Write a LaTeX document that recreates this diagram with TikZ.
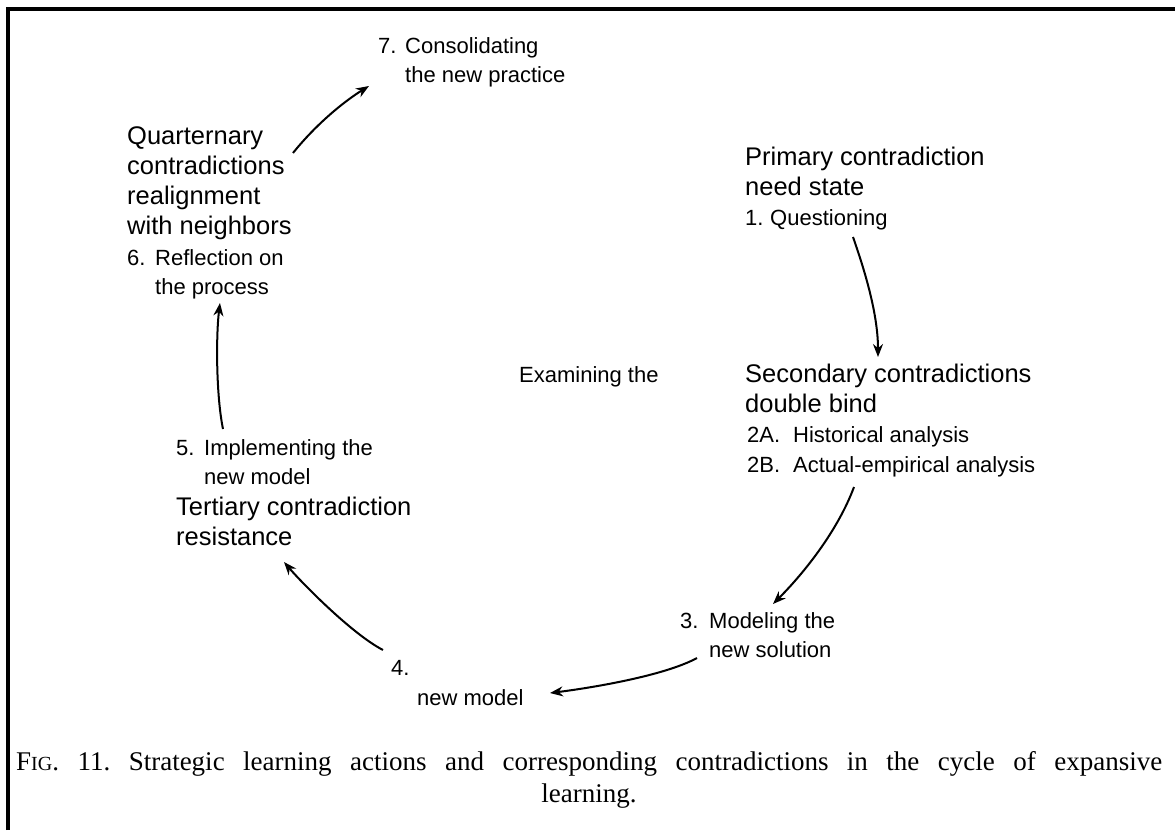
\documentclass[tikz,border=0pt]{standalone}
\usepackage{fontspec}
\setmainfont{Liberation Sans}
\newfontfamily\capfont{Liberation Serif}
\usetikzlibrary{arrows.meta}
\begin{document}
\begin{tikzpicture}[x=1pt,y=-1pt,
  big/.style={anchor=base west,inner sep=0pt,align=left,font=\fontsize{25.5}{30}\selectfont},
  small/.style={anchor=base west,inner sep=0pt,align=left,font=\fontsize{22}{29}\selectfont},
  smallw/.style={anchor=base west,inner sep=0pt,align=left,font=\fontsize{22}{30}\selectfont},
  arr/.style={line width=2pt,-{Stealth[length=13pt,width=10pt]}},
  frameline/.style={line width=3.5pt},
  captext/.style={inner sep=0pt,font=\capfont\fontsize{27}{32}\selectfont}]
\useasboundingbox (0,0) rectangle (1175,830);
\fill[white] (0,0) rectangle (1175,830);
\draw[frameline] (8,830) -- (8,9) -- (1175,9);

% texts (positions are the baselines of the last line)
\node[small] (n7) at (378,82) {\makebox[27pt][l]{7.}Consolidating\\\hspace*{27pt}the new practice};
\node[big] (q) at (127,234) {Quarternary\\contradictions\\realignment\\with neighbors};
\node[small] (n6) at (127,294) {\makebox[28pt][l]{6.}Reflection on\\\hspace*{28pt}the process};
\node[big] (p) at (745,195) {Primary contradiction\\need state};
\node[small] (n1) at (745,225) {\makebox[25pt][l]{1.}Questioning};
\node[big] (s) at (745,412) {Secondary contradictions\\double bind};
\node[smallw] (n2) at (747,472) {\makebox[46pt][l]{2A.}Historical analysis\\\makebox[46pt][l]{2B.}Actual-empirical analysis};
\node[small] (n3) at (680,657) {\makebox[29pt][l]{3.}Modeling the\\\hspace*{29pt}new solution};
\node[smallw] (n4) at (391,705) {\makebox[26pt][l]{4.}\\\hspace*{26pt}new model};
\node[small] (n5) at (176,484) {\makebox[28pt][l]{5.}Implementing the\\\hspace*{28pt}new model};
\node[big] (t) at (176,545) {Tertiary contradiction\\resistance};
\node[small] (ex) at (519,382) {Examining the};

% arrow end points
\coordinate (a1s) at (853,237); \coordinate (a1e) at (878,357);
\coordinate (a2s) at (854,487); \coordinate (a2e) at (773,604);
\coordinate (a3s) at (697,658); \coordinate (a3e) at (550,693);
\coordinate (a4s) at (383,650); \coordinate (a4e) at (284,562);
\coordinate (a5s) at (223,429); \coordinate (a5e) at (220,303);
\coordinate (a6s) at (293,153); \coordinate (a6e) at (369,86);

\draw[arr] (a1s) .. controls (867,277) and (878,317) .. (a1e);
\draw[arr] (a2s) .. controls (838,530) and (805,572) .. (a2e);
\draw[arr] (a3s) .. controls (664,676) and (590,688) .. (a3e);
\draw[arr] (a4s) .. controls (352,634) and (302,583) .. (a4e);
\draw[arr] (a5s) .. controls (216,395) and (216,335) .. (a5e);
\draw[arr] (a6s) .. controls (313,128) and (340,104) .. (a6e);

% caption
\node[captext,anchor=base west] (cap1) at (16,770)
  {\frenchspacing\makebox[1146pt][s]{F{\fontsize{20}{24}\selectfont IG}. 11. Strategic learning actions and corresponding contradictions in the cycle of expansive}};
\node[captext,anchor=base] (cap2) at (589,802) {learning.};
\end{tikzpicture}
\end{document}
